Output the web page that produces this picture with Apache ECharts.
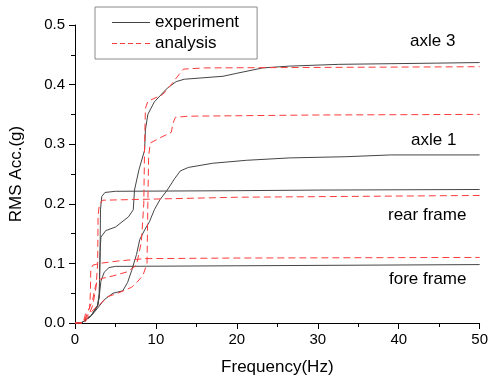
<!DOCTYPE html>
<html>
<head>
<meta charset="utf-8">
<script src="https://cdn.jsdelivr.net/npm/echarts@6/dist/echarts.min.js"></script>
<style>html,body{margin:0;padding:0;background:#fff}#c{width:491px;height:382px}</style>
</head>
<body>
<div id="c"></div>
<script>
// Axis ticks
const xTicks = [0, 10, 20, 30, 40, 50];
const yTicks = [0.0, 0.1, 0.2, 0.3, 0.4, 0.5];
const curveLabels = ["axle 3", "axle 1", "rear frame", "fore frame"];

// Experiment (solid) curves
const axle3ExpF = [0, 0.8, 2.0, 2.8, 3.0, 3.1, 3.2, 3.8, 5.0, 6.6, 7.2, 7.35, 7.9, 8.6, 8.7, 9.0, 9.8, 11.4, 12.5, 13.5, 18.3, 20, 23.2, 26.5, 32.6, 44.5, 50];
const axle3ExpV = [0, 0, 0.012, 0.03, 0.05, 0.12, 0.144, 0.155, 0.161, 0.178, 0.19, 0.223, 0.257, 0.29, 0.324, 0.35, 0.371, 0.394, 0.405, 0.409, 0.414, 0.419, 0.428, 0.431, 0.434, 0.436, 0.437];

const axle1ExpF = [0, 0.8, 2.0, 2.8, 3.6, 4.7, 5.9, 6.5, 7.0, 7.6, 8.0, 8.6, 9.2, 9.8, 10.5, 11.4, 12.3, 13.0, 14.0, 17.0, 21.2, 26.5, 33.5, 39, 50];
const axle1ExpV = [0, 0, 0.012, 0.025, 0.039, 0.05, 0.054, 0.068, 0.088, 0.115, 0.14, 0.156, 0.17, 0.19, 0.207, 0.223, 0.242, 0.255, 0.261, 0.268, 0.273, 0.277, 0.279, 0.282, 0.282];

const rearExpF = [0, 0.8, 2.0, 2.8, 3.0, 3.1, 3.15, 3.3, 3.7, 5.0, 20, 30, 50];
const rearExpV = [0, 0, 0.012, 0.03, 0.045, 0.12, 0.19, 0.212, 0.219, 0.221, 0.222, 0.223, 0.224];

const foreExpF = [0, 0.8, 2.0, 2.8, 3.0, 3.2, 3.6, 4.2, 5.0, 20, 50];
const foreExpV = [0, 0, 0.012, 0.028, 0.045, 0.07, 0.085, 0.093, 0.095, 0.096, 0.098];

// Analysis (dashed) curves
const axle3AnaF = [0, 1.0, 1.5, 2.2, 2.5, 2.8, 3.4, 4.7, 6.5, 7.6, 8.2, 8.5, 8.6, 8.7, 9.0, 10.8, 11.4, 12.0, 12.8, 13.4, 16, 50];
const axle3AnaV = [0, 0, 0.015, 0.04, 0.06, 0.072, 0.075, 0.079, 0.086, 0.097, 0.136, 0.2, 0.3, 0.36, 0.372, 0.383, 0.392, 0.402, 0.416, 0.426, 0.428, 0.43];

const axle1AnaF = [0, 1.0, 1.5, 2.5, 3.3, 4.0, 5.3, 7.0, 7.7, 8.4, 8.9, 9.0, 9.1, 9.3, 10.7, 11.9, 12.1, 12.4, 14, 30, 50];
const axle1AnaV = [0, 0, 0.012, 0.025, 0.034, 0.044, 0.05, 0.06, 0.069, 0.08, 0.1, 0.2, 0.28, 0.302, 0.312, 0.32, 0.335, 0.345, 0.347, 0.349, 0.35];

const rearAnaF = [0, 1.2, 1.6, 2.2, 2.6, 2.8, 2.85, 3.0, 3.4, 10, 20, 50];
const rearAnaV = [0, 0, 0.01, 0.03, 0.06, 0.1, 0.18, 0.198, 0.206, 0.208, 0.211, 0.214];

const foreAnaF = [0, 1.0, 1.3, 1.8, 1.9, 1.95, 2.2, 3.0, 5.3, 8.6, 20, 50];
const foreAnaV = [0, 0, 0.015, 0.025, 0.05, 0.09, 0.097, 0.1, 0.104, 0.108, 0.109, 0.11];

function pairs(f, v) { return f.map((x, i) => [x, v[i]]); }

const FONT = "'Liberation Sans', Arial, sans-serif";
const EXP_COLOR = '#454545';
const ANA_COLOR = '#ff3a3a';
const expStyle = { color: EXP_COLOR, width: 1, type: 'solid' };
const anaStyle = { color: ANA_COLOR, width: 1, type: [7, 4] };

function mk(name, f, v, style) {
  return { name: name, type: 'line', data: pairs(f, v), symbol: 'none', smooth: false,
    lineStyle: style, itemStyle: { color: style.color }, animation: false, silent: true };
}

const series = [
  mk('experiment', axle3ExpF, axle3ExpV, expStyle),
  mk('experiment', axle1ExpF, axle1ExpV, expStyle),
  mk('experiment', rearExpF, rearExpV, expStyle),
  mk('experiment', foreExpF, foreExpV, expStyle),
  mk('analysis', axle3AnaF, axle3AnaV, anaStyle),
  mk('analysis', axle1AnaF, axle1AnaV, anaStyle),
  mk('analysis', rearAnaF, rearAnaV, anaStyle),
  mk('analysis', foreAnaF, foreAnaV, anaStyle)
];

const annoFont = "17px 'Liberation Sans', Arial";
function anno(text, x, y) {
  return { type: 'text', x: x, y: y, silent: true,
    style: { text: text, font: annoFont, fill: '#000', align: 'left', verticalAlign: 'middle' } };
}

const SOLID_ICON = 'path://M0,0h38v1h-38z';
const DASH_ICON = 'path://M0,0h5v1h-5z M8,0h5v1h-5z M16,0h5v1h-5z M24,0h5v1h-5z M33,0h5v1h-5z';

const chart = echarts.init(document.getElementById('c'), null, { renderer: 'canvas' });
chart.setOption({
  backgroundColor: '#ffffff',
  animation: false,
  textStyle: { fontFamily: FONT },
  grid: { left: 74, right: 9, top: 25, bottom: 59, containLabel: false },
  legend: {
    data: [
      { name: 'experiment', icon: SOLID_ICON, itemStyle: { color: EXP_COLOR, borderWidth: 0 } },
      { name: 'analysis', icon: DASH_ICON, itemStyle: { color: ANA_COLOR, borderWidth: 0 } }
    ],
    orient: 'vertical', left: 95, top: 7,
    padding: [7, 18, 7, 17], itemGap: 4,
    itemWidth: 38, itemHeight: 17,
    borderColor: '#8a8a8a', borderWidth: 1,
    textStyle: { fontSize: 17, color: '#000', fontFamily: FONT }
  },
  xAxis: {
    type: 'value', min: xTicks[0], max: xTicks[xTicks.length - 1], interval: 10,
    name: 'Frequency(Hz)', nameLocation: 'middle', nameGap: 36,
    nameTextStyle: { fontSize: 17, color: '#000', fontFamily: FONT },
    axisLine: { show: true, onZero: false, lineStyle: { color: '#000', width: 1 } },
    axisTick: { show: true, inside: false, length: 6, lineStyle: { color: '#000' } },
    minorTick: { show: true, splitNumber: 2, length: 4, lineStyle: { color: '#000' } },
    axisLabel: { fontSize: 15, color: '#000', margin: 9, fontFamily: FONT },
    splitLine: { show: false }
  },
  yAxis: {
    type: 'value', min: yTicks[0], max: yTicks[yTicks.length - 1], interval: 0.1,
    name: 'RMS Acc.(g)', nameLocation: 'middle', nameGap: 50,
    nameTextStyle: { fontSize: 17, color: '#000', fontFamily: FONT },
    axisLine: { show: true, onZero: false, lineStyle: { color: '#000', width: 1 } },
    axisTick: { show: true, inside: false, length: 6, lineStyle: { color: '#000' } },
    minorTick: { show: true, splitNumber: 2, length: 4, lineStyle: { color: '#000' } },
    axisLabel: { fontSize: 15, color: '#000', margin: 10, fontFamily: FONT, formatter: v => v.toFixed(1) },
    splitLine: { show: false }
  },
  graphic: [
    anno(curveLabels[0], 410, 41),
    anno(curveLabels[1], 411, 140),
    anno(curveLabels[2], 388, 215),
    anno(curveLabels[3], 389, 279)
  ],
  series: series
});
</script>
</body>
</html>
